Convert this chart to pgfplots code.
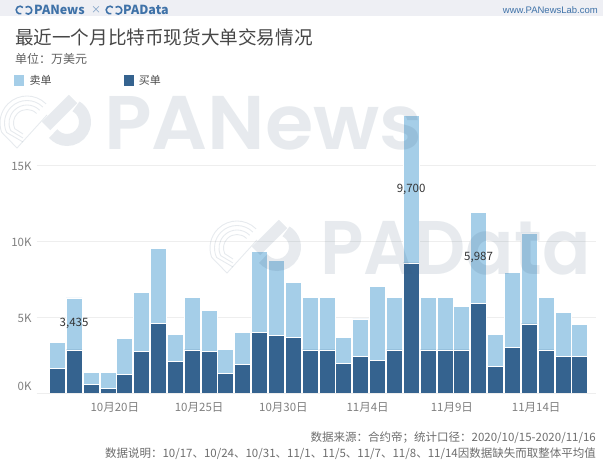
\documentclass[border=0pt]{standalone}
\usepackage{pgfplots}
\usepackage{pgfplotstable}
\pgfplotsset{compat=1.18}
\usepackage{fontspec}
\setmainfont{Noto Sans CJK SC}
\newfontfamily\wm{Poppins SemiBold}
\newfontfamily\lat{Liberation Sans}
\definecolor{lightbar}{HTML}{A5CEE8}
\definecolor{darkbar}{HTML}{35638F}
\definecolor{wmark}{HTML}{3A5A78}
\definecolor{brand}{HTML}{3F72A8}
\definecolor{band}{HTML}{EEEFF4}
\definecolor{gridc}{HTML}{EEEEEE}
\definecolor{ticktext}{HTML}{808080}
\definecolor{foot}{HTML}{6E6E6E}
\pgfplotstableread{
i buy sell
0 1.60 1.73
1 2.83 3.435
2 0.55 0.79
3 0.29 1.05
4 1.21 2.36
5 2.72 3.92
6 4.60 4.94
7 2.10 1.78
8 2.83 3.44
9 2.76 2.66
10 1.29 1.60
11 1.86 2.15
12 4.01 5.31
13 3.77 4.96
14 3.68 3.58
15 2.83 3.44
16 2.83 3.44
17 1.97 1.71
18 2.41 2.46
19 2.15 4.87
20 2.83 3.44
21 8.57 9.70
22 2.83 3.44
23 2.83 3.44
24 2.83 2.87
25 5.90 5.987
26 1.73 2.15
27 3.00 4.94
28 4.54 5.99
29 2.83 3.44
30 2.41 2.88
31 2.41 2.09
}\bars
% big watermark logo: #1,#2 = centre of the ring part (image coordinates)
\newcommand{\wmlogo}[2]{%
  \begin{scope}[shift={(#1,460-#2)},wmark,opacity=0.12,line cap=butt,line join=miter]
    \draw[line width=0.9pt] ({27*cos(45)},{27*sin(45)}) arc (45:200:27) -- (-10,-25) -- (20,8);
    \foreach \r/\e in {22.5/-19,18/-15,13.5/-11}{
      \draw[line width=0.9pt] ({\r*cos(45)},{\r*sin(45)}) arc (45:205:\r) -- (-4,\e);}
    \draw[line width=12pt] (19,-3)--(46,24) (49,16.6) arc (60:-140:18);
  \end{scope}}
\newcommand{\smalllogo}[2]{%
  \begin{scope}[shift={(#1,460-#2)},brand,line width=1.6pt]
    \draw (40:3.8) arc (40:290:3.8);
    \draw (5.6,-3.2) arc (-130:130:3.8);
  \end{scope}}
\begin{document}
\begin{tikzpicture}[x=1pt,y=1pt]
\useasboundingbox (0,0) rectangle (603,460);
\fill[white] (0,0) rectangle (603,460);
\fill[band] (0,444) rectangle (603,460);
\begin{axis}[
  at={(37pt,67pt)}, anchor=south west,
  scale only axis, width=559pt, height=300pt,
  ybar stacked, bar width=16pt,
  xmin=-1.2, xmax=31.97, ymin=0, ymax=19.74,
  axis line style={draw=none}, major tick length=0pt,
  ymajorgrids, grid style={gridc,line width=0.6pt},
  ytick={0,5,10,15},
  yticklabels={\raisebox{16pt}{0K},5K,10K,15K},
  xtick={3.42,8.42,13.42,18.42,23.42,28.42},
  xticklabels={10月20日,10月25日,10月30日,11月4日,11月9日,11月14日},
  tick label style={font=\fontsize{11.5}{13}\selectfont,text=ticktext},
  yticklabel style={xshift=-2pt,yshift=-1pt},
  xticklabel style={yshift=-6pt},
  reverse legend,
  legend columns=2,
  legend cell align=left,
  legend style={at={(axis description cs:-0.0464,1.04)},anchor=west,
    draw=none,fill=none,font=\fontsize{11}{12}\selectfont,text=black!70,
    /tikz/every even column/.append style={column sep=70pt}},
  legend image code/.code={\path[#1,draw=none] (0pt,-5.5pt) rectangle (10pt,5.5pt);\path (13pt,0pt);},
  after end axis/.code={
    \node[text=black!80,font=\fontsize{11.5}{13}\selectfont] at (axis cs:1,4.55) {3,435};
    \node[text=black!80,font=\fontsize{11.5}{13}\selectfont] at (axis cs:21,13.42) {9,700};
    \node[text=black!80,font=\fontsize{11.5}{13}\selectfont] at (axis cs:25,8.9) {5,987};
  },
]
\addplot[draw=white,line width=0.5pt,fill=darkbar] table[x=i,y=buy] {\bars};
\addlegendentry{买单}
\addplot[draw=white,line width=0.5pt,fill=lightbar] table[x=i,y=sell] {\bars};
\addlegendentry{卖单}
\end{axis}
% watermarks
\wmlogo{27}{123}
\wmlogo{237}{248}
\node[anchor=base west,inner sep=0pt,text=wmark,text opacity=0.12,xscale=1.03,transform shape,font=\wm\fontsize{76}{76}\selectfont] at (104,310) {PANews};
\node[anchor=base west,inner sep=0pt,text=wmark,text opacity=0.12,xscale=0.94,transform shape,font=\wm\fontsize{76}{76}\selectfont] at (320,185) {PAData};
% header band
\smalllogo{20}{10}
\node[anchor=west,inner sep=0pt,text=brand,font=\bfseries\fontsize{12.5}{14}\selectfont] at (34,450) {PANews};
\node[anchor=center,inner sep=0pt,text=brand!70,font=\fontsize{10}{12}\selectfont] at (96,450) {×};
\smalllogo{110}{10}
\node[anchor=west,inner sep=0pt,text=brand,font=\bfseries\fontsize{12.5}{14}\selectfont] at (123,450) {PAData};
\node[anchor=east,inner sep=0pt,text=brand,font=\lat\fontsize{9.5}{11}\selectfont] at (598,450) {www.PANewsLab.com};
% titles
\node[anchor=west,inner sep=0pt,text=black!72,font=\fontsize{18.6}{21}\selectfont] at (15,423) {最近一个月比特币现货大单交易情况};
\node[anchor=west,inner sep=0pt,text=black!62,font=\fontsize{12}{14}\selectfont] at (15,401) {单位：万美元};
% footer
\node[anchor=east,inner sep=0pt,text=foot,font=\fontsize{11.5}{13}\selectfont] at (596,22) {数据来源：合约帝；统计口径：2020/10/15-2020/11/16};
\node[anchor=east,inner sep=0pt,text=foot,font=\fontsize{11.5}{13}\selectfont] at (596,6) {数据说明：10/17、10/24、10/31、11/1、11/5、11/7、11/8、11/14因数据缺失而取整体平均值};
\end{tikzpicture}
\end{document}
